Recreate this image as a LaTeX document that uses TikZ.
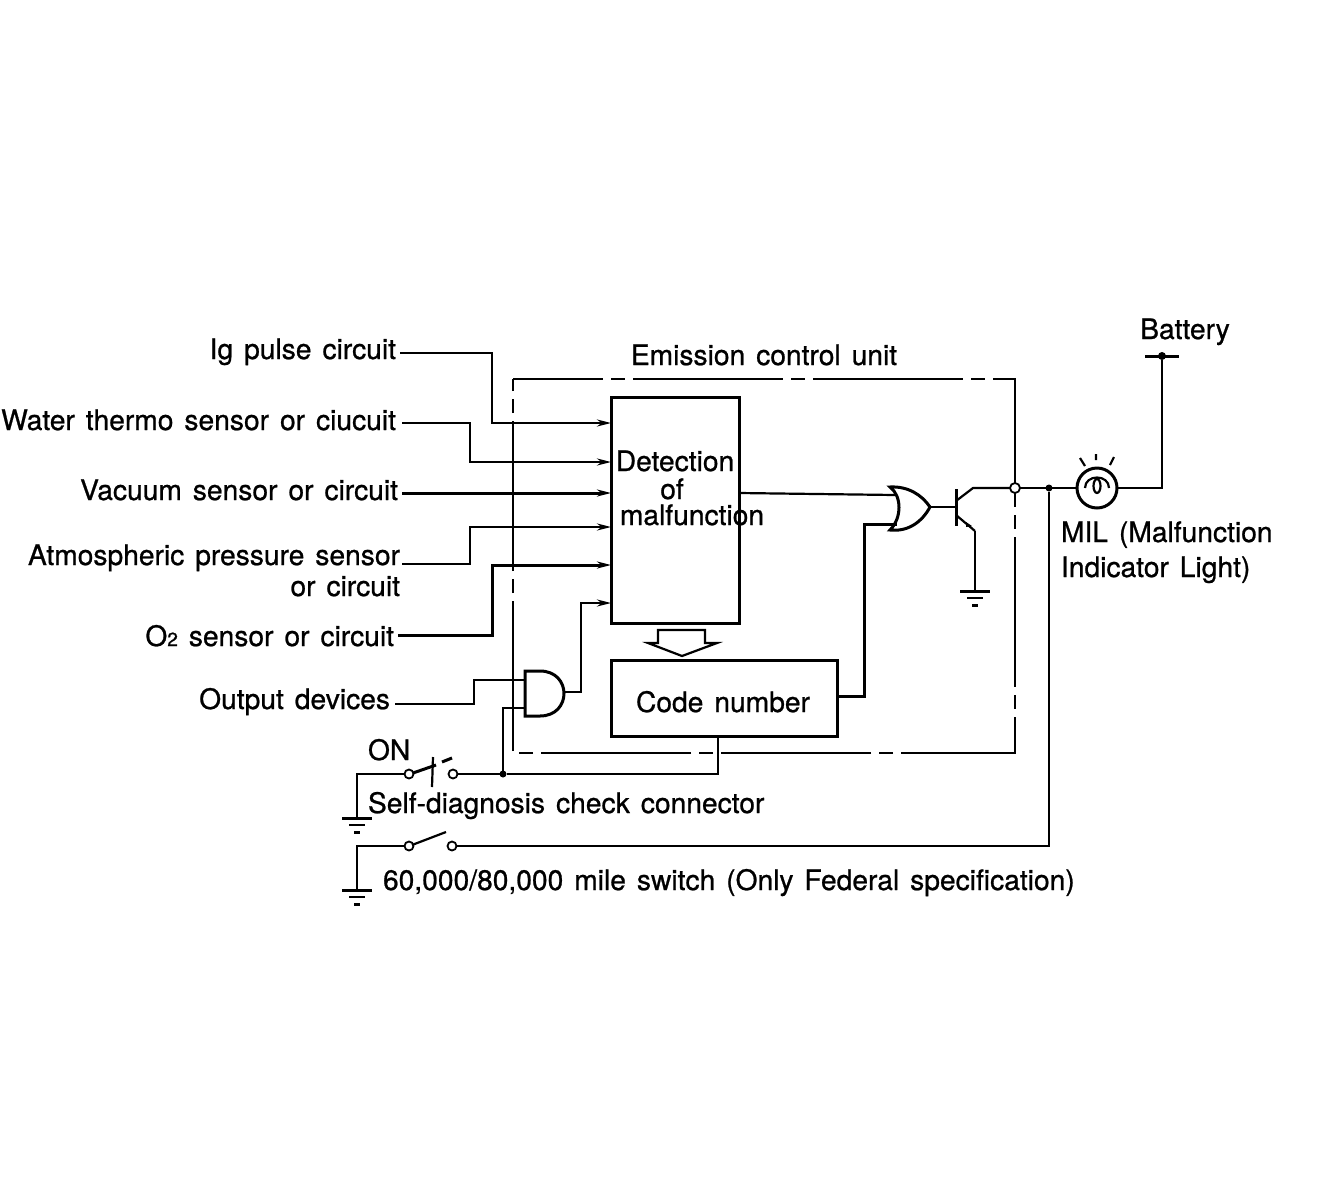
\documentclass[tikz,border=0pt]{standalone}
\usepackage{fontspec}
\setmainfont[WordSpace=1.4,FakeBold=0.8]{TeX Gyre Heros}
\usepackage{tikz}
\usetikzlibrary{positioning,arrows.meta,calc}

\begin{document}
\begin{tikzpicture}[
    x=1pt, y=-1pt,
    font=\fontsize{28.2}{34}\selectfont,
    every node/.style={outer sep=0pt},
    txt/.style={inner sep=0pt, text height=18pt, text depth=6pt},
    lbl/.style={txt, anchor=east},
    block/.style={rectangle, draw, line width=3pt, anchor=north west},
    wire/.style={line width=2.2pt},
    heavy/.style={line width=3pt},
    arr/.style={wire, -{Stealth[length=14pt,width=7pt]}},
    unit/.style={line width=2.6pt, dash pattern=on 150pt off 8pt on 14pt off 8pt, dash phase=60pt},
    dot/.style={circle, fill, inner sep=0pt, minimum size=7pt},
    contact/.style={circle, draw, line width=1.8pt, fill=white, inner sep=0pt, minimum size=9pt},
    gnd/.pic={
        \draw[heavy] (-15,0) -- (15,0);
        \draw[wire] (-8,7) -- (8,7);
        \draw[heavy] (-3,14) -- (3,14);
    }
]
\useasboundingbox (0,0) rectangle (1344,1184);

\node[block, minimum width=128pt, minimum height=226pt] (det) at (611,397) {};
\node[block, minimum width=226pt, minimum height=76pt, below=37pt of det.south west, anchor=north west] (code) {};

\node[txt] (dt1) at (675,465) {Detection};
\node[txt] (dt2) at (672,493) {of};
\node[txt] (dt3) at (692,519) {malfunction};
\node[txt] (codetxt) at (723,706) {Code number};
\node[txt] (unittxt) at (764,359) {Emission control unit};

\node[lbl] (lig) at (396,353) {Ig pulse circuit};
\node[lbl] (lwater) at (396,424) {Water thermo sensor or ciucuit};
\node[lbl] (lvac) at (398,494) {Vacuum sensor or circuit};
\node[lbl] (latm) at (400,559) {Atmospheric pressure sensor};
\node[lbl] (latmb) at (400,590) {or circuit};
\node[lbl] (lotwo) at (394,640) {O{\fontsize{19}{20}\selectfont 2} sensor or circuit};
\node[lbl] (lout) at (390,703) {Output devices};

\node[txt, anchor=west] (lon) at (368,754) {ON};
\node[txt, anchor=west] (lself) at (368,807) {Self-diagnosis check connector};
\node[txt, anchor=west] (lmile) at (383,884) {60,000/80,000 mile switch (Only Federal specification)};
\node[txt, anchor=west] (lmil) at (1061,536) {MIL (Malfunction};
\node[txt, anchor=west] (lind) at (1061,571) {Indicator Light)};
\node[txt] (lbat) at (1185,333) {Battery};

% emission control unit frame
\draw[unit] (513,379) -- (1015,379) -- (1015,753) -- (513,753) -- cycle;

% inputs
\coordinate (igout) at (400,353);
\coordinate (waterout) at (402,423);
\coordinate (vacout) at (402,493);
\coordinate (atmout) at (402,564);
\coordinate (otwoout) at (398,635);
\coordinate (outdev) at (395,704);
\coordinate (and1) at (525,680);
\coordinate (and2) at (525,708);
\coordinate (andout) at (564,692);

\draw[arr] (igout) -| (492,390) |- (det.west |- 0,423);
\draw[arr] (waterout) -| (470,440) |- (det.west |- 0,462);
\draw[arr, heavy] (vacout) -- (det.west |- vacout);
\draw[arr] (atmout) -| (470,545) |- (det.west |- 0,527);
\draw[arr, heavy] (otwoout) -| (492,600) |- (det.west |- 0,565);
\draw[arr] (andout) -| (581,650) |- (det.west |- 0,603);

% and gate
\draw[heavy] (525,671) -- (540,671) .. controls (572,671) and (572,716) .. (540,716) -- (525,716) -- cycle;
\draw[wire] (outdev) -| (474,690) |- (and1);

% or gate
\coordinate (or1) at (895,495);
\coordinate (or2) at (897,524);
\coordinate (orout) at (930,507);
\draw[heavy] (890,487) .. controls (902,496) and (902,518) .. (890,530)
    .. controls (908,532) and (922,522) .. (orout)
    .. controls (922,495) and (908,486) .. cycle;
\draw[wire] (det.east |- 0,493) -- (or1);
\draw[heavy] (code.east |- 0,696) -| (864,600) |- (or2);

% transistor
\coordinate (base) at (956,507);
\coordinate (coll) at (973,488);
\coordinate (emit) at (975,531);
\node[contact, minimum size=10pt] (tap) at (1015,488) {};
\draw[wire] (orout) -- (base);
\draw[heavy] (956,489) -- (956,526);
\draw[wire] (956,501) -- (coll) -- (tap);
\draw[wire] (956,515) -- (emit);
\fill (966,522) -- (972,526) -- (966,527) -- cycle;
\pic at (975,591) {gnd};
\draw[wire] (emit) -- (975,591);

% lamp and battery
\node[circle, draw, line width=3pt, minimum size=40pt, inner sep=0pt] (lamp) at (1097,488) {};
\node[dot, minimum size=8pt] (batdot) at (1162,356) {};
\node[dot] (lampdot) at (1049,488) {};
\draw[wire] (tap) -- (lamp.west);
\draw[wire] (lamp.east) -| (batdot);
\draw[heavy] (1145,356) -- (1179,356);
\draw[wire] (1085,488) .. controls (1085,474) and (1109,474) .. (1109,488);
\draw[wire] (1097,486) ellipse[x radius=3.5, y radius=7];
\draw[wire] (1080,458) -- (1085,466) (1096,454) -- (1096,460) (1114,457) -- (1110,465);

% check connector
\node[contact] (sw1a) at (409,774) {};
\node[contact] (sw1b) at (453,774) {};
\node[dot] (chkdot) at (503,774) {};
\coordinate (gnd1) at (357,818);
\pic at (gnd1) {gnd};
\draw[wire] (sw1a) -| (gnd1);
\draw[wire] (sw1b) -- (chkdot) -| (code.south -| 718,0);
\draw[wire] (and2) -| (chkdot);
\draw[heavy] (413,773) -- (436,765) (442,762) -- (452,758);
\draw[wire] (433,757) -- (432,787);

% mile switch
\node[contact] (sw2a) at (409,846) {};
\node[contact] (sw2b) at (452,846) {};
\coordinate (gnd2) at (357,890);
\pic at (gnd2) {gnd};
\draw[wire] (sw2a) -| (gnd2);
\draw[wire] (sw2b) -| (lampdot);
\draw[wire] (412,845) -- (446,832);

% open arrow between boxes
\draw[wire] (658,643) -- (658,630) -- (705,630) -- (705,643) -- (717,643) -- (682,656) -- (648,643) -- cycle;

\end{tikzpicture}
\end{document}
